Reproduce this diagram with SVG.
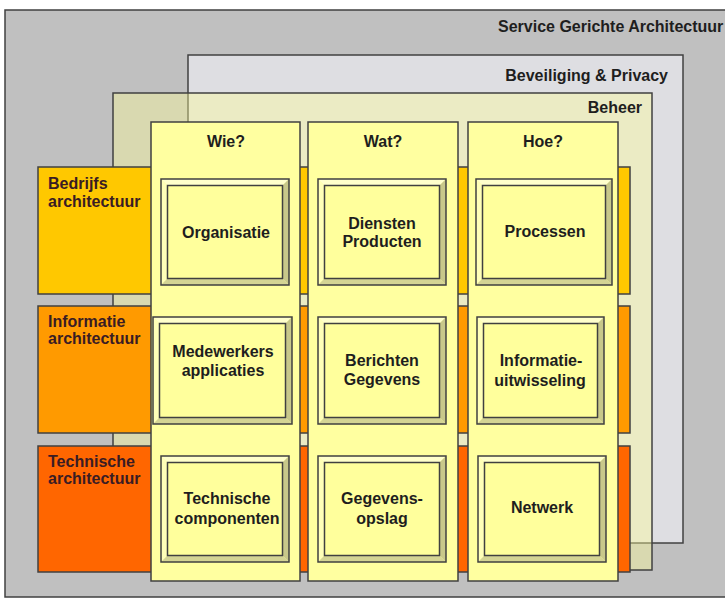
<svg xmlns="http://www.w3.org/2000/svg" width="725" height="600" viewBox="0 0 725 600">
<defs>
<style>
.frame{stroke:#404040;stroke-width:1.5}
.t{font-family:"Liberation Sans",Arial,sans-serif;font-weight:bold;font-size:16px;fill:#1e1e1e}
.tc{text-anchor:middle}
.tr{text-anchor:end}
.lbl{font-family:"Liberation Sans",Arial,sans-serif;font-weight:bold;font-size:16px;fill:#3a1c24}
.col{fill:#ffffa0;stroke:#404040;stroke-width:1.5}
.bt{fill:#ffffcc}
.bl{fill:#ffffb8}
.br{fill:#c8c88a}
.bb{fill:#d4d494}
.bf{fill:#ffff9c;stroke:#404040;stroke-width:1.5}
.bo{fill:none;stroke:#404040;stroke-width:1.5}
</style>
</defs>

<g id="soa">
<rect x="5" y="10" width="730" height="587" fill="#c0c0c0" class="frame"/>
<text class="t" x="498" y="32">Service Gerichte Architectuur</text>
</g>

<g id="beveiliging">
<rect x="188" y="55" width="495" height="488" fill="#dedee2" class="frame"/>
<text class="t tr" x="668" y="81">Beveiliging &amp; Privacy</text>
</g>

<g id="beheer">
<rect x="113" y="93" width="539" height="477" fill="#ffff99" fill-opacity="0.4" class="frame"/>
<text class="t tr" x="642" y="113">Beheer</text>
</g>

<g id="bedrijfs">
<rect x="38" y="167" width="592" height="127" fill="#ffc800" class="frame"/>
<text class="lbl" x="48" y="189">Bedrijfs</text>
<text class="lbl" x="48" y="207">architectuur</text>
</g>

<g id="informatie">
<rect x="38" y="306" width="592" height="127" fill="#ff9a00" class="frame"/>
<text class="lbl" x="48" y="327">Informatie</text>
<text class="lbl" x="48" y="344">architectuur</text>
</g>

<g id="technische">
<rect x="38" y="446" width="592" height="126" fill="#ff6600" class="frame"/>
<text class="lbl" x="48" y="467">Technische</text>
<text class="lbl" x="48" y="484">architectuur</text>
</g>

<g id="col-wie">
<rect x="151" y="122" width="149" height="459" class="col"/>
<text class="t tc" x="226" y="147">Wie?</text>
</g>
<g id="col-wat">
<rect x="308" y="122" width="150" height="459" class="col"/>
<text class="t tc" x="383" y="147">Wat?</text>
</g>
<g id="col-hoe">
<rect x="468" y="122" width="150" height="459" class="col"/>
<text class="t tc" x="543" y="147">Hoe?</text>
</g>

<!-- Row 1 -->
<g id="organisatie">
<polygon class="bt" points="161,179 289,179 282.5,185.5 167.5,185.5"/>
<polygon class="bl" points="161,179 167.5,185.5 167.5,278.5 161,285"/>
<polygon class="br" points="289,179 289,285 282.5,278.5 282.5,185.5"/>
<polygon class="bb" points="161,285 167.5,278.5 282.5,278.5 289,285"/>
<rect class="bf" x="167.5" y="185.5" width="115" height="93"/>
<rect class="bo" x="161" y="179" width="128" height="106"/>
<text class="t tc" x="226" y="238">Organisatie</text>
</g>
<g id="diensten">
<polygon class="bt" points="318,179 446,179 439.5,185.5 324.5,185.5"/>
<polygon class="bl" points="318,179 324.5,185.5 324.5,278.5 318,285"/>
<polygon class="br" points="446,179 446,285 439.5,278.5 439.5,185.5"/>
<polygon class="bb" points="318,285 324.5,278.5 439.5,278.5 446,285"/>
<rect class="bf" x="324.5" y="185.5" width="115" height="93"/>
<rect class="bo" x="318" y="179" width="128" height="106"/>
<text class="t tc" x="382" y="229">Diensten</text>
<text class="t tc" x="382" y="247">Producten</text>
</g>
<g id="processen">
<polygon class="bt" points="476,179 612,179 605.5,185.5 482.5,185.5"/>
<polygon class="bl" points="476,179 482.5,185.5 482.5,278.5 476,285"/>
<polygon class="br" points="612,179 612,285 605.5,278.5 605.5,185.5"/>
<polygon class="bb" points="476,285 482.5,278.5 605.5,278.5 612,285"/>
<rect class="bf" x="482.5" y="185.5" width="123" height="93"/>
<rect class="bo" x="476" y="179" width="136" height="106"/>
<text class="t tc" x="545" y="237">Processen</text>
</g>

<!-- Row 2 -->
<g id="medewerkers">
<polygon class="bt" points="153,317 292,317 285.5,323.5 159.5,323.5"/>
<polygon class="bl" points="153,317 159.5,323.5 159.5,417.5 153,424"/>
<polygon class="br" points="292,317 292,424 285.5,417.5 285.5,323.5"/>
<polygon class="bb" points="153,424 159.5,417.5 285.5,417.5 292,424"/>
<rect class="bf" x="159.5" y="323.5" width="126" height="94"/>
<rect class="bo" x="153" y="317" width="139" height="107"/>
<text class="t tc" x="223" y="357">Medewerkers</text>
<text class="t tc" x="223" y="376">applicaties</text>
</g>
<g id="berichten">
<polygon class="bt" points="318,317 446,317 439.5,323.5 324.5,323.5"/>
<polygon class="bl" points="318,317 324.5,323.5 324.5,417.5 318,424"/>
<polygon class="br" points="446,317 446,424 439.5,417.5 439.5,323.5"/>
<polygon class="bb" points="318,424 324.5,417.5 439.5,417.5 446,424"/>
<rect class="bf" x="324.5" y="323.5" width="115" height="94"/>
<rect class="bo" x="318" y="317" width="128" height="107"/>
<text class="t tc" x="382" y="366">Berichten</text>
<text class="t tc" x="382" y="385">Gegevens</text>
</g>
<g id="uitwisseling">
<polygon class="bt" points="477,317 604,317 597.5,323.5 483.5,323.5"/>
<polygon class="bl" points="477,317 483.5,323.5 483.5,417.5 477,424"/>
<polygon class="br" points="604,317 604,424 597.5,417.5 597.5,323.5"/>
<polygon class="bb" points="477,424 483.5,417.5 597.5,417.5 604,424"/>
<rect class="bf" x="483.5" y="323.5" width="114" height="94"/>
<rect class="bo" x="477" y="317" width="127" height="107"/>
<text class="t tc" x="541" y="366">Informatie-</text>
<text class="t tc" x="540" y="386">uitwisseling</text>
</g>

<!-- Row 3 -->
<g id="componenten">
<polygon class="bt" points="161,456 289,456 282.5,462.5 167.5,462.5"/>
<polygon class="bl" points="161,456 167.5,462.5 167.5,555.5 161,562"/>
<polygon class="br" points="289,456 289,562 282.5,555.5 282.5,462.5"/>
<polygon class="bb" points="161,562 167.5,555.5 282.5,555.5 289,562"/>
<rect class="bf" x="167.5" y="462.5" width="115" height="93"/>
<rect class="bo" x="161" y="456" width="128" height="106"/>
<text class="t tc" x="227" y="504">Technische</text>
<text class="t tc" x="227" y="524">componenten</text>
</g>
<g id="opslag">
<polygon class="bt" points="318,456 446,456 439.5,462.5 324.5,462.5"/>
<polygon class="bl" points="318,456 324.5,462.5 324.5,555.5 318,562"/>
<polygon class="br" points="446,456 446,562 439.5,555.5 439.5,462.5"/>
<polygon class="bb" points="318,562 324.5,555.5 439.5,555.5 446,562"/>
<rect class="bf" x="324.5" y="462.5" width="115" height="93"/>
<rect class="bo" x="318" y="456" width="128" height="106"/>
<text class="t tc" x="382" y="504">Gegevens-</text>
<text class="t tc" x="382" y="524">opslag</text>
</g>
<g id="netwerk">
<polygon class="bt" points="478,456 606,456 599.5,462.5 484.5,462.5"/>
<polygon class="bl" points="478,456 484.5,462.5 484.5,555.5 478,562"/>
<polygon class="br" points="606,456 606,562 599.5,555.5 599.5,462.5"/>
<polygon class="bb" points="478,562 484.5,555.5 599.5,555.5 606,562"/>
<rect class="bf" x="484.5" y="462.5" width="115" height="93"/>
<rect class="bo" x="478" y="456" width="128" height="106"/>
<text class="t tc" x="542" y="513">Netwerk</text>
</g>

<g id="connectors"/>
</svg>
